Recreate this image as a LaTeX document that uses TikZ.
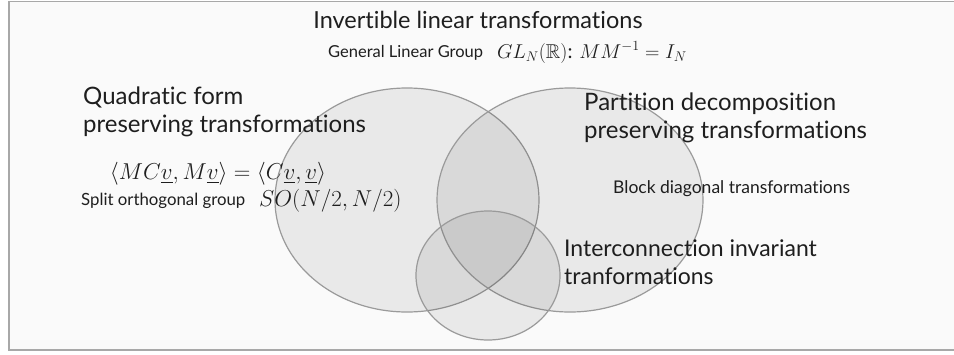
\RequirePackage{fix-cm}
\documentclass[tikz,border=0pt]{standalone}
\usepackage{amsmath,amssymb}
\usepackage{fontspec}
\setmainfont[Ligatures={NoCommon,NoRare,NoContextual}]{Lato}
\definecolor{framegray}{HTML}{A8A8A8}
\definecolor{setedge}{HTML}{9A9A9A}
\definecolor{inkc}{HTML}{1E1E1E}
\definecolor{paper}{HTML}{FAFAFA}
\begin{document}
\begin{tikzpicture}[x=1pt,y=-1pt,
  setfill/.style={draw=setedge,line width=1.2pt,fill=black,fill opacity=0.065},
  bigtxt/.style={inner sep=0pt,text=inkc,font=\fontsize{24}{28}\selectfont,align=left},
  smalltxt/.style={inner sep=0pt,text=inkc,font=\fontsize{16.5}{19}\selectfont},
  mathtxt/.style={inner sep=0pt,text=inkc,font=\fontsize{23}{26}\selectfont}]
\useasboundingbox (0,0) rectangle (954,354);
% page and frame
\fill[paper] (9,1.5) rectangle (954,350);
\draw[framegray,line width=1.5pt] (954,1.5) -- (9,1.5) -- (9,350) -- (954,350);

% the three sets
\path[setfill] (407,200) ellipse [x radius=132,y radius=112];
\path[setfill] (570,200) ellipse [x radius=133,y radius=112];
\path[setfill] (488,275.5) ellipse [x radius=72,y radius=64.5];

% top label
\node[inner sep=0pt,text=inkc,font=\fontsize{23.5}{26}\selectfont,anchor=base] (title) at (478,28) {Invertible linear transformations};
\node[smalltxt,anchor=base west] (glg) at (328,57) {General Linear Group};
\node[mathtxt,font=\fontsize{20}{24}\selectfont,anchor=base west] (glmath) at (497,58) {$GL_N(\mathbb{R})$: $MM^{-1}=I_N$};

% left label
\node[bigtxt,anchor=base west] (quad) at (83,132) {Quadratic form\\preserving transformations};
\node[mathtxt,anchor=base] (quadmath) at (218,179) {$\langle MC\underline{v}, M\underline{v}\rangle = \langle C\underline{v},\underline{v}\rangle$};
\node[smalltxt,font=\fontsize{16.8}{20}\selectfont,anchor=base west] (so) at (81,205) {Split orthogonal group};
\node[mathtxt,anchor=base west] (somath) at (259,206) {$SO(N/2,N/2)$};

% right label
\node[bigtxt,anchor=base west] (part) at (584,138) {Partition decomposition\\preserving transformations};
\node[smalltxt,font=\fontsize{17.5}{20}\selectfont,anchor=base west] (block) at (613,193) {Block diagonal transformations};

% bottom label
\node[bigtxt,font=\fontsize{23}{28}\selectfont,anchor=base west] (inter) at (564,284) {Interconnection invariant\\tranformations};
\end{tikzpicture}
\end{document}
